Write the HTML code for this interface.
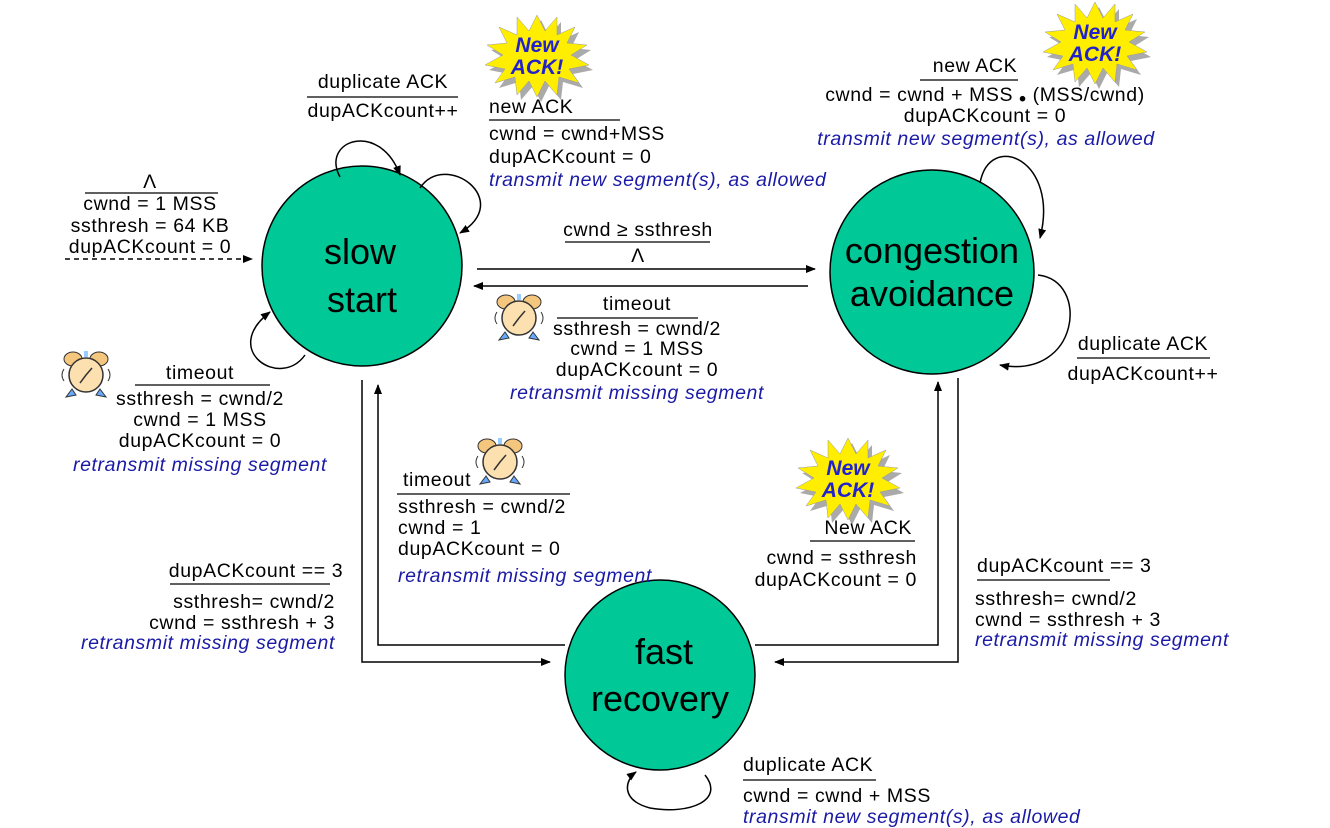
<!DOCTYPE html>
<html><head><meta charset="utf-8"><style>
html,body{margin:0;padding:0;background:#fff}
svg{display:block}
text{font-family:"Liberation Sans",Arial,sans-serif;font-size:19.5px;letter-spacing:0.6px;fill:#000}
.b{fill:#1a1aa6;font-style:italic}
.big{font-size:36px;letter-spacing:0}
.n{font-size:21px;font-weight:bold;font-style:italic;fill:#2222cc;letter-spacing:0}
</style></head><body>
<svg width="1330" height="828" viewBox="0 0 1330 828" xmlns="http://www.w3.org/2000/svg">
<defs>
<marker id="a" markerWidth="10" markerHeight="10" refX="9" refY="5" orient="auto" markerUnits="userSpaceOnUse"><path d="M0,1 L10,5 L0,9 z" fill="#000"/></marker>
<g id="star">
<polygon transform="translate(4,5)" fill="#aaa" points="0,-40 8,-24 20,-38 20,-20 38,-28 30,-12 50,-10 34,0 52,10 32,14 42,28 22,22 20,40 8,26 0,42 -8,26 -20,40 -22,22 -42,28 -32,14 -52,10 -34,0 -50,-10 -30,-12 -38,-28 -20,-20 -20,-38 -8,-24"/>
<polygon fill="#ffee00" stroke="#999" stroke-width="0.5" points="0,-40 8,-24 20,-38 20,-20 38,-28 30,-12 50,-10 34,0 52,10 32,14 42,28 22,22 20,40 8,26 0,42 -8,26 -20,40 -22,22 -42,28 -32,14 -52,10 -34,0 -50,-10 -30,-12 -38,-28 -20,-20 -20,-38 -8,-24"/>
</g>
<g id="clk">
<ellipse cx="-13" cy="-16" rx="9" ry="7" fill="#f5c77e" stroke="#333"/>
<ellipse cx="13" cy="-16" rx="9" ry="7" fill="#f5c77e" stroke="#333"/>
<rect x="-2" y="-24" width="4" height="6" fill="#9cf"/>
<path d="M-14,14 L-20,22 L-10,20 z M14,14 L20,22 L10,20 z" fill="#6af" stroke="#333"/>
<circle r="17" fill="#fde0b0" stroke="#333" stroke-width="1.5"/>
<path d="M0,0 L-6,8 M0,0 L6,-7" stroke="#333" stroke-width="1.5"/>
<path d="M-22,-6 Q-26,0 -22,6 M22,-6 Q26,0 22,6" stroke="#333" fill="none"/>
</g>
</defs>
<g fill="none" stroke="#000" stroke-width="1.5">
<circle cx="362" cy="266" r="100" fill="#00c896" stroke="#000"/>
<circle cx="932" cy="272" r="102" fill="#00c896" stroke="#000"/>
<circle cx="660" cy="675" r="95" fill="#00c896" stroke="#000"/>
<path d="M340,177 C320,140 380,120 400,175" marker-end="url(#a)"/>
<path d="M420,188 C445,150 515,200 460,233" marker-end="url(#a)"/>
<path d="M65,259 L252,259" stroke-dasharray="5,4" marker-end="url(#a)"/>
<path d="M305,355 C280,390 220,350 270,312" marker-end="url(#a)"/>
<path d="M477,269 L815,269" marker-end="url(#a)"/>
<path d="M808,286 L474,286" marker-end="url(#a)"/>
<path d="M980,183 C990,130 1060,160 1040,238" marker-end="url(#a)"/>
<path d="M1038,275 C1090,280 1080,380 1000,365" marker-end="url(#a)"/>
<path d="M362,380 L362,662 L550,662" marker-end="url(#a)"/>
<path d="M565,645 L378,645 L378,385" marker-end="url(#a)"/>
<path d="M958,378 L958,662 L775,662" marker-end="url(#a)"/>
<path d="M755,645 L938,645 L938,382" marker-end="url(#a)"/>
<path d="M705,775 C725,800 690,815 650,808 C620,800 625,780 636,772" marker-end="url(#a)"/>
</g>
<g stroke="#000" stroke-width="1.3">
<line x1="307" y1="97" x2="458" y2="97"/>
<line x1="489" y1="120" x2="620" y2="120"/>
<line x1="85" y1="193" x2="218" y2="193"/>
<line x1="135" y1="385" x2="270" y2="385"/>
<line x1="565" y1="242" x2="710" y2="242"/>
<line x1="557" y1="318" x2="698" y2="318"/>
<line x1="920" y1="80" x2="1018" y2="80"/>
<line x1="1077" y1="358" x2="1210" y2="358"/>
<line x1="397" y1="494" x2="570" y2="494"/>
<line x1="170" y1="584" x2="330" y2="584"/>
<line x1="810" y1="541" x2="915" y2="541"/>
<line x1="977" y1="580" x2="1110" y2="580"/>
<line x1="743" y1="780" x2="876" y2="780"/>
</g>
<use href="#star" x="537" y="55"/>
<text class="n" x="537" y="52" text-anchor="middle">New</text><text class="n" x="537" y="74" text-anchor="middle">ACK!</text>
<use href="#star" x="1095" y="42"/>
<text class="n" x="1095" y="39" text-anchor="middle">New</text><text class="n" x="1095" y="61" text-anchor="middle">ACK!</text>
<use href="#star" x="848" y="478"/>
<text class="n" x="848" y="475" text-anchor="middle">New</text><text class="n" x="848" y="497" text-anchor="middle">ACK!</text>
<use href="#clk" x="519" y="318"/>
<use href="#clk" x="86" y="375"/>
<use href="#clk" x="500" y="462"/>
<text class="big" x="360" y="264" text-anchor="middle">slow</text>
<text class="big" x="362" y="312" text-anchor="middle">start</text>
<text class="big" x="932" y="263" text-anchor="middle">congestion</text>
<text class="big" x="932" y="306" text-anchor="middle">avoidance</text>
<text class="big" x="664" y="664" text-anchor="middle">fast</text>
<text class="big" x="660" y="711" text-anchor="middle">recovery</text>
<g text-anchor="middle">
<text x="383" y="88">duplicate ACK</text>
<text x="383" y="117">dupACKcount++</text>
<text x="150" y="188">Λ</text>
<text x="150" y="210">cwnd = 1 MSS</text>
<text x="150" y="232">ssthresh = 64 KB</text>
<text x="150" y="253">dupACKcount = 0</text>
<text x="200" y="379">timeout</text>
<text x="200" y="405">ssthresh = cwnd/2</text>
<text x="200" y="426">cwnd = 1 MSS</text>
<text x="200" y="447">dupACKcount = 0</text>
<text class="b" x="200" y="471">retransmit missing segment</text>
<text x="638" y="236">cwnd ≥ ssthresh</text>
<text x="638" y="262">Λ</text>
<text x="637" y="310">timeout</text>
<text x="637" y="335">ssthresh = cwnd/2</text>
<text x="637" y="355">cwnd = 1 MSS</text>
<text x="637" y="376">dupACKcount = 0</text>
<text class="b" x="637" y="399">retransmit missing segment</text>
<text x="975" y="72">new ACK</text>
<text x="985" y="101">cwnd = cwnd + MSS <tspan font-weight="bold" dy="4">•</tspan><tspan dy="-4"> (MSS/cwnd)</tspan></text>
<text x="985" y="122">dupACKcount = 0</text>
<text class="b" x="986" y="145">transmit new segment(s), as allowed</text>
<text x="1143" y="350">duplicate ACK</text>
<text x="1143" y="380">dupACKcount++</text>
<text x="256" y="577">dupACKcount == 3</text>
</g>
<g>
<text x="489" y="113">new ACK</text>
<text x="489" y="140">cwnd = cwnd+MSS</text>
<text x="489" y="163">dupACKcount = 0</text>
<text class="b" x="489" y="186">transmit new segment(s), as allowed</text>
<text x="403" y="486">timeout</text>
<text x="398" y="513">ssthresh = cwnd/2</text>
<text x="398" y="534">cwnd = 1</text>
<text x="398" y="555">dupACKcount = 0</text>
<text class="b" x="398" y="582">retransmit missing segment</text>
<text x="977" y="572">dupACKcount == 3</text>
<text x="975" y="605">ssthresh= cwnd/2</text>
<text x="975" y="626">cwnd = ssthresh + 3</text>
<text class="b" x="975" y="646">retransmit missing segment</text>
<text x="743" y="771">duplicate ACK</text>
<text x="743" y="802">cwnd = cwnd + MSS</text>
<text class="b" x="743" y="823">transmit new segment(s), as allowed</text>
</g>
<g text-anchor="end">
<text x="335" y="608">ssthresh= cwnd/2</text>
<text x="335" y="629">cwnd = ssthresh + 3</text>
<text class="b" x="335" y="649">retransmit missing segment</text>
<text x="912" y="534">New ACK</text>
<text x="917" y="564">cwnd = ssthresh</text>
<text x="917" y="586">dupACKcount = 0</text>
</g>
</svg>
</body></html>
